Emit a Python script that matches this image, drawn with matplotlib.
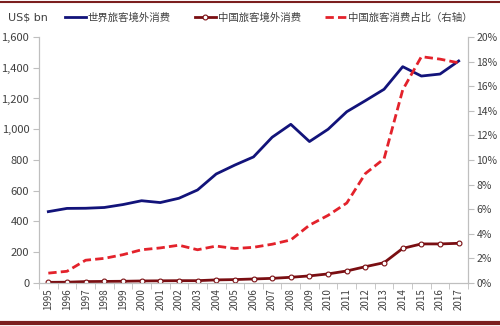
import matplotlib
matplotlib.use('Agg')
import matplotlib.pyplot as plt
from matplotlib.ticker import FuncFormatter, FixedLocator
import numpy as np

plt.rcParams['font.family'] = ['Noto Sans CJK SC', 'DejaVu Sans']

years = [str(y) for y in range(1995, 2018)]
world = [464, 485, 486, 491, 510, 535, 523, 551, 605, 709, 767, 820, 948, 1032,
         920, 1000, 1114, 1186, 1260, 1407, 1346, 1359, 1444]
china = [4, 5, 9, 10, 11, 13, 14, 15, 15, 20, 22, 26, 30, 37, 46, 59, 78, 106,
         132, 225, 254, 254, 258]
share = [0.8, 0.95, 1.85, 2.0, 2.3, 2.7, 2.85, 3.07, 2.7, 3.0, 2.8, 2.9, 3.15,
         3.5, 4.7, 5.5, 6.5, 8.9, 10.1, 15.7, 18.4, 18.2, 17.9]

navy = '#12137A'
darkred = '#7A0E12'
red = '#E3222B'
grey = '#404040'
spine = '#BFBFBF'

fig = plt.figure(figsize=(5, 3.26), dpi=100)
ax = fig.add_axes([0.078, 0.132, 0.858, 0.7545])
ax2 = ax.twinx()

x = np.arange(len(years))
l1, = ax.plot(x, world, color=navy, lw=2, label='世界旅客境外消费')
l2, = ax.plot(x, china, color=darkred, lw=2, marker='o', ms=3.5,
              mfc='white', mec=darkred, mew=0.8, label='中国旅客境外消费')
l3, = ax2.plot(x, share, color=red, lw=2, ls=(0, (3, 1.5)),
               label='中国旅客消费占比（右轴）')

ax.set_xlim(-0.5, len(years) - 0.5)
ax.set_ylim(0, 1600)
ax2.set_ylim(0, 20)
ax.set_yticks(range(0, 1601, 200))
ax.yaxis.set_major_formatter(FuncFormatter(lambda v, p: f'{int(v):,}'))
ax2.set_yticks(range(0, 21, 2))
ax2.yaxis.set_major_formatter(FuncFormatter(lambda v, p: f'{int(v)}%'))

ax.set_xticks(x)
ax.set_xticklabels(years, rotation=90)
ax.xaxis.set_minor_locator(FixedLocator(np.arange(-0.5, len(years), 1)))
ax.tick_params(axis='x', which='major', length=0, pad=4, labelsize=7, colors=grey)
ax.tick_params(axis='x', which='minor', length=4, color=spine, direction='out')
ax.tick_params(axis='y', length=4, color=spine, labelsize=8, colors=grey, pad=3)
ax2.tick_params(axis='y', length=4, color=spine, labelsize=7.5, colors=grey, pad=2)
for a in (ax, ax2):
    a.spines['top'].set_visible(False)
    for s in ('left', 'right', 'bottom'):
        a.spines[s].set_color(spine)
        a.spines[s].set_linewidth(0.8)

fig.text(0.016, 0.945, 'US$ bn', fontsize=8, color=grey, va='center',
         family=['DejaVu Sans'])
fig.legend(handles=[l1, l2, l3], loc='center left', bbox_to_anchor=(0.13, 0.945),
           ncol=3, frameon=False, fontsize=7.5, handlelength=2.0, handletextpad=0.2,
           columnspacing=2.3, borderaxespad=0, borderpad=0, labelcolor=grey)

fig.add_artist(plt.Line2D([0, 1], [0.995, 0.995], color='#7B1F1F', lw=1.5,
                          transform=fig.transFigure))
fig.add_artist(plt.Line2D([0, 1], [0.008, 0.008], color='#7B1F1F', lw=3,
                          transform=fig.transFigure))

fig.savefig('out.png', dpi=100)
